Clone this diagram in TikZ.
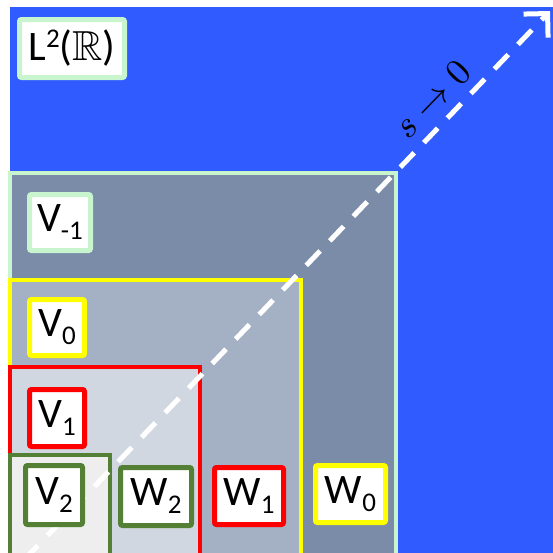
\documentclass[tikz,border=0pt]{standalone}
\usepackage{amssymb}
\usepackage{fontspec}
\setmainfont{Carlito}
\usetikzlibrary{arrows.meta}
\definecolor{bluebg}{RGB}{47,91,255}
\definecolor{fillA}{RGB}{122,140,168}
\definecolor{fillB}{RGB}{164,176,196}
\definecolor{fillC}{RGB}{208,215,225}
\definecolor{fillD}{RGB}{238,238,238}
\definecolor{lgreen}{RGB}{200,245,205}
\definecolor{dgreen}{RGB}{84,128,54}
\definecolor{ylw}{RGB}{255,255,0}
\definecolor{rd}{RGB}{255,0,0}
\newcommand\sbx[1]{\raisebox{-8pt}{\fontsize{27}{27}\selectfont #1}}
\newcommand\spx[1]{\raisebox{13pt}{\fontsize{27}{27}\selectfont #1}}
\begin{document}
\begin{tikzpicture}[x=1pt,y=-1pt,
  sq/.style={line width=3.5pt},
  lab/.style={draw, fill=white, line width=5pt, rounded corners=2pt, inner sep=0pt,
    font=\fontsize{42}{42}\selectfont, anchor=center, align=center}]
\useasboundingbox (0,0) rectangle (553,552);
\begin{scope}
\clip (0,0) rectangle (553,552);
\fill[bluebg] (10,7) rectangle (560,560);
\draw[sq, fill=fillA, draw=lgreen] (10,173) rectangle (396,570);
\draw[sq, fill=fillB, draw=ylw] (10,280) rectangle (301,570);
\draw[sq, fill=fillC, draw=rd] (10,367) rectangle (200,570);
\draw[sq, fill=fillD, draw=dgreen] (10,455) rectangle (110,570);
\coordinate (start) at (24,560);
\coordinate (end) at (550,11);
\draw[white, line width=5pt, dash pattern=on 20pt off 14pt,
  -{Straight Barb[length=17pt,width=34pt,line width=5pt]}] (start) -- (end);
\end{scope}
\node[inner sep=0pt, rotate=46] (lim) at (432,99) {\scalebox{3.7}{$s\to 0$}};
\node[lab, draw=lgreen, minimum width=105pt, minimum height=58pt] (L2) at (72,48.5) {L\spx{2}($\mathbb{R}$)};
\node[lab, draw=lgreen, minimum width=61pt, minimum height=56pt] (Vm1) at (60,222.5) {V\sbx{-1}};
\node[lab, draw=ylw, minimum width=55pt, minimum height=56pt] (V0) at (57,327.5) {V\sbx{0}};
\node[lab, draw=rd, minimum width=55pt, minimum height=57pt] (V1) at (57,418) {V\sbx{1}};
\node[lab, draw=dgreen, minimum width=57pt, minimum height=59pt] (V2) at (54,495) {V\sbx{2}};
\node[lab, draw=dgreen, minimum width=71pt, minimum height=58pt] (W2) at (156,496.5) {W\sbx{2}};
\node[lab, draw=rd, minimum width=69pt, minimum height=57pt] (W1) at (249,496) {W\sbx{1}};
\node[lab, draw=ylw, minimum width=70pt, minimum height=57pt] (W0) at (350.5,494) {W\sbx{0}};
\end{tikzpicture}
\end{document}
